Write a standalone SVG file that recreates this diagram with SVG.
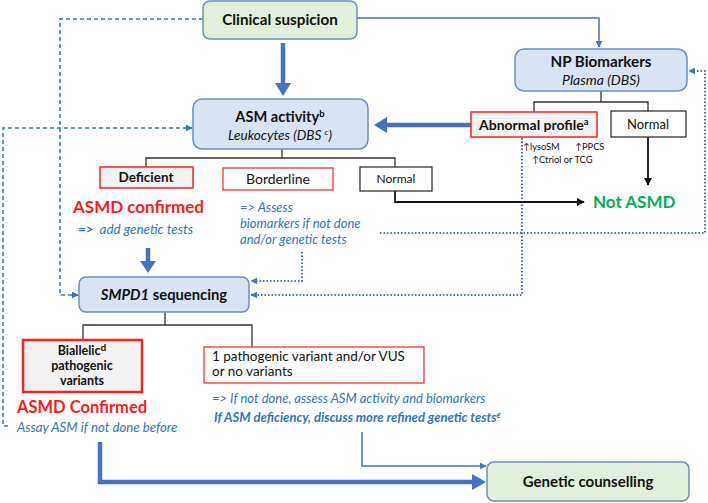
<svg xmlns="http://www.w3.org/2000/svg" width="708" height="503" viewBox="0 0 708 503">
<defs>
<style>
text{font-family:Lato,"Liberation Sans",sans-serif;fill:#111}
.b{font-weight:bold}
.i{font-style:italic}
.blue{fill:#2e75c6}
.red{fill:#ff1a1a}
.green{fill:#00b050}
.boxb{fill:#dae3f3;stroke:#6c8ebf;stroke-width:1.5}
.boxg{fill:#e2efda;stroke:#6c8ebf;stroke-width:1.5}
.boxr{fill:#f2f2f2;stroke:#ff2020;stroke-width:1.5}
.boxrw{fill:#fff;stroke:#ff2020;stroke-width:1.2}
.boxk{fill:#fff;stroke:#222;stroke-width:1.2}
.tree{fill:none;stroke:#333;stroke-width:1.3}
.thick{fill:none;stroke:#4472c4;stroke-width:4.5}
.thin{fill:none;stroke:#4472c4;stroke-width:1.5}
.dash{fill:none;stroke:#2e75c6;stroke-width:1.5;stroke-dasharray:4,3}
.dot{fill:none;stroke:#4472c4;stroke-width:2;stroke-dasharray:1.5,2}
.blk{fill:none;stroke:#111;stroke-width:1.8}
.head{fill:#4472c4}
</style>
<marker id="ab" viewBox="0 0 10 10" refX="9" refY="5" markerWidth="7" markerHeight="7" markerUnits="userSpaceOnUse" orient="auto"><path d="M0,0L10,5L0,10z" fill="#4472c4"/></marker>
<marker id="ad" viewBox="0 0 10 10" refX="9" refY="5" markerWidth="7" markerHeight="7" markerUnits="userSpaceOnUse" orient="auto"><path d="M0,0L10,5L0,10z" fill="#2e75c6"/></marker>
<marker id="ak" viewBox="0 0 10 10" refX="9" refY="5" markerWidth="8" markerHeight="8" markerUnits="userSpaceOnUse" orient="auto"><path d="M0,0L10,5L0,10z" fill="#111"/></marker>
</defs>

<g id="connectors">
<path class="thick" d="M283,43V84"/><polygon class="head" points="275,83 291,83 283,96"/>
<path class="thick" d="M471,125H386"/><polygon class="head" points="387,117 387,133 374,125"/>
<path class="thick" d="M148,248V262"/><polygon class="head" points="140,261 156,261 148,273"/>
<path class="thick" d="M100,442V482H473"/><polygon class="head" points="472,474 472,490 486,482"/>
<path class="thin" d="M357,18H599V47" marker-end="url(#ab)"/>
<path class="thin" d="M362,432V466H486" marker-end="url(#ab)"/>
<path class="dash" d="M203,19H60V295H78" marker-end="url(#ad)"/>
<path class="dash" d="M8,426H3V128H192" marker-end="url(#ad)"/>
<path class="dot" d="M522,138V295H251" marker-end="url(#ab)"/>
<path class="dot" d="M380,233H705V71H689" marker-end="url(#ab)"/>
<path class="dot" d="M302,252V281H251" marker-end="url(#ab)"/>
<path class="blk" d="M648,137V185" marker-end="url(#ak)"/>
<path class="blk" d="M395,191V202H584" marker-end="url(#ak)"/>
<path class="tree" d="M601,91V102M534,112V102H648V111"/>
<path class="tree" d="M282,149V158M146,167V158H395V167"/>
<path class="tree" d="M165,312V325M83,340V325H252V347"/>
</g>

<g id="clinical">
<rect class="boxg" x="203" y="1" width="154" height="38" rx="7"/>
<text class="b" x="280" y="25" text-anchor="middle" font-size="15.2">Clinical suspicion</text>
</g>

<g id="asm">
<rect class="boxb" x="193" y="99" width="175" height="50" rx="9"/>
<text class="b" x="280" y="122" text-anchor="middle" font-size="14.6">ASM activity<tspan font-size="9.5" dy="-5">b</tspan></text>
<text class="i" x="280" y="140" text-anchor="middle" font-size="13.6">Leukocytes (DBS <tspan font-size="8.5" dy="-5">c</tspan><tspan dy="5">)</tspan></text>
</g>

<g id="np">
<rect class="boxb" x="515" y="49" width="172" height="42" rx="9"/>
<text class="b" x="601" y="67" text-anchor="middle" font-size="15.2">NP Biomarkers</text>
<text class="i" x="601" y="85" text-anchor="middle" font-size="14">Plasma (DBS)</text>
</g>

<g id="abnormal">
<rect class="boxr" x="471" y="112" width="126" height="25"/>
<text class="b" x="479" y="130" font-size="14">Abnormal profile<tspan font-size="9.5" dy="-5">a</tspan></text>
<text x="523" y="150" font-size="9.3">↑lysoSM</text>
<text x="575" y="150" font-size="9.3">↑PPCS</text>
<text x="532" y="163" font-size="9.3">↑Ctriol or TCG</text>
</g>

<g id="np-normal">
<rect class="boxk" x="611" y="111" width="75" height="26"/>
<text x="648" y="129" text-anchor="middle" font-size="13">Normal</text>
</g>

<g id="not-asmd">
<text class="b green" x="593" y="208" font-size="17">Not ASMD</text>
</g>

<g id="deficient">
<rect class="boxr" x="100" y="167" width="93" height="21"/>
<text class="b" x="146" y="182" text-anchor="middle" font-size="13.5">Deficient</text>
<text class="b red" x="73" y="213" font-size="17">ASMD confirmed</text>
<text class="blue" x="78" y="234" font-size="13.4"><tspan class="b">=&gt;</tspan><tspan class="i" dx="6">add genetic tests</tspan></text>
</g>

<g id="borderline">
<rect class="boxrw" x="223" y="168" width="110" height="22"/>
<text x="278" y="184" text-anchor="middle" font-size="14">Borderline</text>
<text class="i blue" x="240" y="212" font-size="13">=&gt; Assess</text>
<text class="i blue" x="240" y="228" font-size="13">biomarkers if not done</text>
<text class="i blue" x="240" y="244" font-size="13">and/or genetic tests</text>
</g>

<g id="asm-normal">
<rect class="boxk" x="360" y="167" width="72" height="24"/>
<text x="396" y="183" text-anchor="middle" font-size="12">Normal</text>
</g>

<g id="smpd1">
<rect class="boxb" x="79" y="277" width="170" height="35" rx="7"/>
<text class="b" x="164" y="300" text-anchor="middle" font-size="14.8"><tspan class="i">SMPD1</tspan> sequencing</text>
</g>

<g id="biallelic">
<rect class="boxr" x="23" y="340" width="119" height="52" style="stroke-width:2.5"/>
<text class="b" x="82" y="355" text-anchor="middle" font-size="12.5">Biallelic<tspan font-size="10" dy="-4">d</tspan></text>
<text class="b" x="82" y="370" text-anchor="middle" font-size="12.5">pathogenic</text>
<text class="b" x="82" y="385" text-anchor="middle" font-size="12.5">variants</text>
<text class="b red" x="17" y="413" font-size="16.5">ASMD Confirmed</text>
<text class="i blue" x="17" y="432" font-size="13.2">Assay ASM if not done before</text>
</g>

<g id="one-variant">
<rect class="boxrw" x="204" y="347" width="220" height="36"/>
<text x="212" y="361" font-size="13.5">1 pathogenic variant and/or VUS</text>
<text x="212" y="376" font-size="13.5">or no variants</text>
<text class="i blue" x="212" y="403" font-size="13">=&gt; If not done, assess ASM activity and biomarkers</text>
<text class="i b blue" x="214" y="422" font-size="13">If ASM deficiency, discuss more refined genetic tests<tspan font-size="8.5" dy="-4">e</tspan></text>
</g>

<g id="counselling">
<rect class="boxg" x="487" y="462" width="202" height="39" rx="7"/>
<text class="b" x="588" y="487" text-anchor="middle" font-size="15">Genetic counselling</text>
</g>
</svg>
